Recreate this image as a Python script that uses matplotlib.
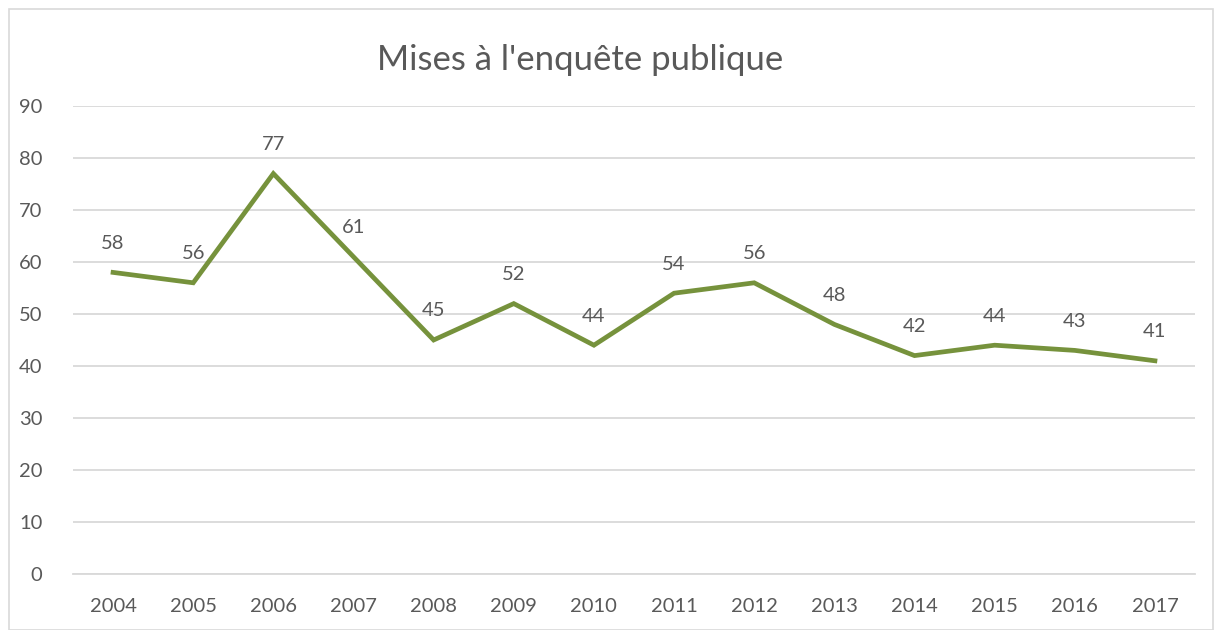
import matplotlib
matplotlib.use("Agg")
import matplotlib.pyplot as plt
import numpy as np

years = ['2004', '2005', '2006', '2007', '2008', '2009', '2010',
         '2011', '2012', '2013', '2014', '2015', '2016', '2017']
values = [58, 56, 77, 61, 45, 52, 44, 54, 56, 48, 42, 44, 43, 41]
yticks = [0, 10, 20, 30, 40, 50, 60, 70, 80, 90]

plt.rcParams['font.family'] = ['Lato', 'DejaVu Sans']
txt = '#595959'
grid = '#d9d9d9'

fig = plt.figure(figsize=(12.22, 6.3), dpi=100)
ax = fig.add_axes([73 / 1222, 56 / 630, 1122 / 1222, 468 / 630])

x = np.arange(len(years))
ax.plot(x, values, color='#76923c', lw=3.4, solid_joinstyle='miter')

for xi, v in zip(x, values):
    ax.annotate(str(v), xy=(xi, v), xytext=(0, 21), textcoords='offset points',
                ha='center', va='center', fontsize=14.5, color=txt)

ax.set_xlim(-0.5, len(years) - 0.5)
ax.set_ylim(0, 90)
ax.set_xticks(x)
ax.set_xticklabels(years)
ax.set_yticks(yticks)
ax.tick_params(axis='both', length=0, labelsize=14.5, colors=txt)
ax.tick_params(axis='x', pad=17)
ax.tick_params(axis='y', pad=22)
ax.yaxis.grid(True, color=grid, lw=1.3)
ax.set_axisbelow(True)
for s in ['top', 'right', 'left']:
    ax.spines[s].set_visible(False)
ax.spines['bottom'].set_color(grid)
ax.spines['bottom'].set_linewidth(1.3)

fig.text(580 / 1222, 1 - 60 / 630, "Mises à l'enquête publique", ha='center', va='center',
         fontsize=25, color=txt)

border = plt.Rectangle((9 / 1222, 0), 1 - 18 / 1222, 1 - 9 / 630, transform=fig.transFigure,
                       fill=False, edgecolor='#d9d9d9', lw=1.2)
fig.patches.append(border)

fig.savefig('out.png', dpi=100)
